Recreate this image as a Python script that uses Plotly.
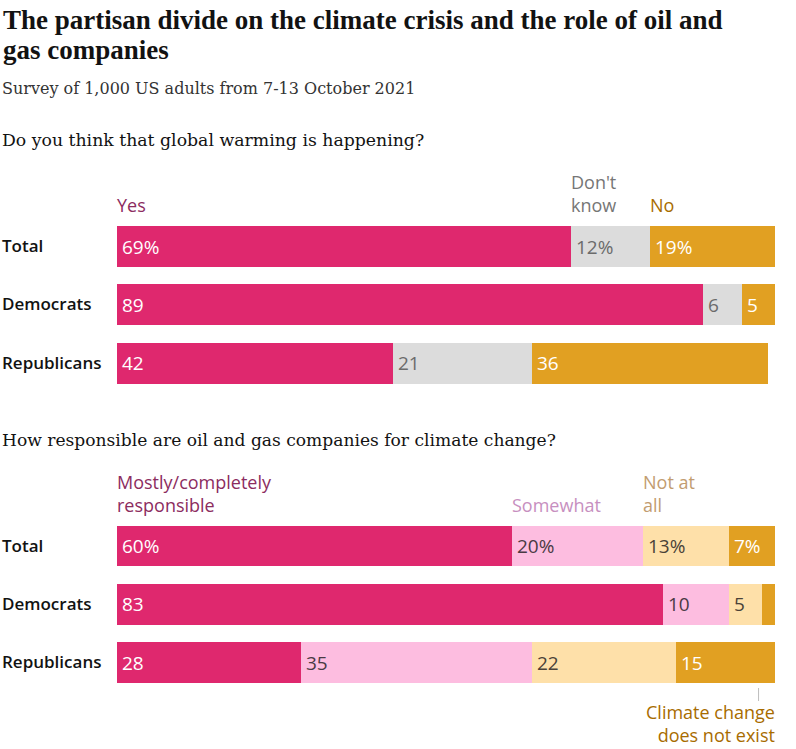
import plotly.graph_objects as go
import numpy as np

W, H = 796, 749

# ---------------- data ----------------
groups = ["Total", "Democrats", "Republicans"]

q1_series = ["Yes", "Don't<br>know", "No"]
q1_yes = [69, 89, 42]
q1_dk = [12, 6, 21]
q1_no = [19, 5, 36]
q1_labels_yes = ["69%", "89", "42"]
q1_labels_dk = ["12%", "6", "21"]
q1_labels_no = ["19%", "5", "36"]

q2_series = ["Mostly/completely<br>responsible", "Somewhat", "Not at<br>all", "Climate change<br>does not exist"]
q2_mostly = [60, 83, 28]
q2_somewhat = [20, 10, 35]
q2_notatall = [13, 5, 22]
q2_notexist = [7, 2, 15]
q2_labels_mostly = ["60%", "83", "28"]
q2_labels_somewhat = ["20%", "10", "35"]
q2_labels_notatall = ["13%", "5", "22"]
q2_labels_notexist = ["7%", "", "15"]

title_lines = ["The partisan divide on the climate crisis and the role of oil and", "gas companies"]
subtitle = "Survey of 1,000 US adults from 7-13 October 2021"
question1 = "Do you think that global warming is happening?"
question2 = "How responsible are oil and gas companies for climate change?"

# ---------------- styles ----------------
PINK = "#df286e"
GREY = "#dcdcdc"
ORANGE = "#e1a022"
LPINK = "#fdbde0"
LYELLOW = "#fee0a9"

SERIF_B = "Liberation Serif"
SERIF = "DejaVu Serif"
SANS = "Open Sans"


def py(p):
    return 1 - p / H


def px(p):
    return p / W


fig = go.Figure()

panels = [
    dict(yaxis="y", yref="y",
         values=[q1_yes, q1_dk, q1_no],
         labels=[q1_labels_yes, q1_labels_dk, q1_labels_no],
         names=q1_series,
         colors=[PINK, GREY, ORANGE],
         textcolors=["white", "#6b6b6b", "white"],
         headcolors=["#8c2c60", "#767676", "#a86c00"],
         heads=[0, 1, 2]),
    dict(yaxis="y2", yref="y2",
         values=[q2_mostly, q2_somewhat, q2_notatall, q2_notexist],
         labels=[q2_labels_mostly, q2_labels_somewhat, q2_labels_notatall, q2_labels_notexist],
         names=q2_series,
         colors=[PINK, LPINK, LYELLOW, ORANGE],
         textcolors=["white", "#4a3a44", "#4a4238", "white"],
         headcolors=["#8c2c60", "#c78fc0", "#c29c70", "#a86c00"],
         heads=[0, 1, 2]),
]

annotations = []
shapes = []
ypos = list(range(len(groups)))
BW = 0.7

for p in panels:
    vals = np.array(p["values"], dtype=float)
    cum = np.cumsum(vals, axis=0) - vals
    for i, (v, name, col) in enumerate(zip(p["values"], p["names"], p["colors"])):
        fig.add_trace(go.Bar(
            x=v, y=ypos, orientation="h", name=name.replace("<br>", " "),
            marker=dict(color=col, line=dict(width=0)), width=BW,
            yaxis=p["yaxis"], xaxis="x", showlegend=False, hoverinfo="x+name",
        ))
        for j in range(len(groups)):
            t = p["labels"][i][j]
            if t:
                annotations.append(dict(
                    x=cum[i][j], y=ypos[j], xref="x", yref=p["yref"],
                    text=t, showarrow=False, xanchor="left", yanchor="middle",
                    xshift=3, font=dict(family=SANS, size=19, color=p["textcolors"][i]),
                ))
    # headers above first bar
    for i in p["heads"]:
        annotations.append(dict(
            x=cum[i][0], y=-BW / 2, xref="x", yref=p["yref"],
            text=p["names"][i], showarrow=False, xanchor="left", yanchor="bottom",
            align="left", xshift=-2, yshift=7,
            font=dict(family=SANS, size=18, color=p["headcolors"][i]),
        ))
    # group labels
    for j, g in enumerate(groups):
        annotations.append(dict(
            x=px(0), y=ypos[j], xref="paper", yref=p["yref"], text=g,
            showarrow=False, xanchor="left", yanchor="middle", yshift=1,
            font=dict(family=SANS, size=17, color="#121212", weight=600),
        ))

# "Climate change does not exist" callout
annotations.append(dict(
    x=100, y=len(groups) - 1 + BW / 2, xref="x", yref="y2",
    text=q2_series[3], showarrow=False, xanchor="right", yanchor="top",
    align="right", xshift=2, yshift=-15,
    font=dict(family=SANS, size=18, color="#a86c00"),
))
shapes.append(dict(type="line", xref="x", yref="paper", x0=97.5, x1=97.5,
                   y0=py(688), y1=py(701), line=dict(color="#bdbdbd", width=1)))

# titles
for k, (line, yc) in enumerate(zip(title_lines, [20, 50])):
    annotations.append(dict(
        x=px(1), y=py(yc), xref="paper", yref="paper", text="<b>" + line + "</b>",
        showarrow=False, xanchor="left", yanchor="middle", align="left",
        font=dict(family=SERIF_B, size=27, color="#121212")))
annotations += [
    dict(x=px(0), y=py(89), xref="paper", yref="paper", text=subtitle,
         showarrow=False, xanchor="left", yanchor="middle",
         font=dict(family=SERIF, size=16, color="#333333")),
    dict(x=px(0), y=py(140), xref="paper", yref="paper", text=question1,
         showarrow=False, xanchor="left", yanchor="middle",
         font=dict(family=SERIF, size=17.3, color="#121212")),
    dict(x=px(0), y=py(440), xref="paper", yref="paper", text=question2,
         showarrow=False, xanchor="left", yanchor="middle",
         font=dict(family=SERIF, size=17.1, color="#121212")),
]

step = 58.3
p1_top, p1_bot = 246.5 - step / 2, 246.5 + 2.5 * step
p2_top, p2_bot = 546 - step / 2, 546 + 2.5 * step

fig.update_layout(
    width=W, height=H, margin=dict(l=0, r=0, t=0, b=0),
    paper_bgcolor="white", plot_bgcolor="white",
    barmode="stack",
    xaxis=dict(domain=[px(117), px(775)], range=[0, 100], visible=False, fixedrange=True),
    yaxis=dict(domain=[py(p1_bot), py(p1_top)], range=[2.5, -0.5], visible=False),
    yaxis2=dict(domain=[py(p2_bot), py(p2_top)], range=[2.5, -0.5], visible=False, anchor="x"),
    annotations=annotations, shapes=shapes,
    font=dict(family=SANS),
)

fig.write_html("out.html")
